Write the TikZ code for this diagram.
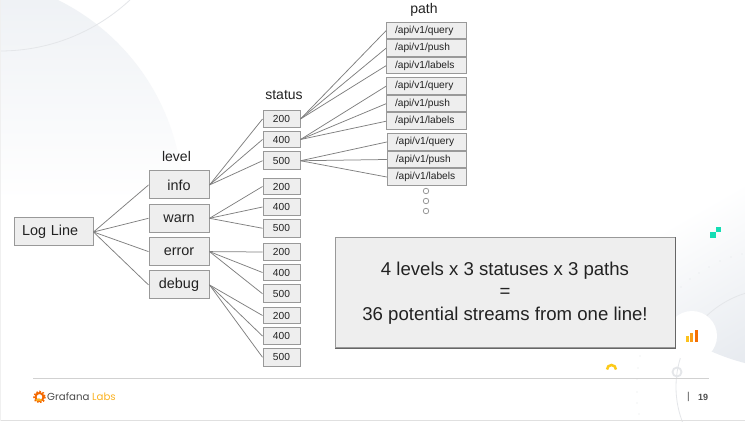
\documentclass[tikz,border=0pt]{standalone}
\usepackage{fontspec}
\setmainfont{Liberation Sans}
\newfontfamily\logofont{Poppins}
\usetikzlibrary{positioning}
\definecolor{boxfill}{HTML}{EEEEEE}
\definecolor{boxedge}{HTML}{999999}
\definecolor{wire}{HTML}{808080}
\definecolor{inktext}{HTML}{222222}
\definecolor{wash}{HTML}{EDF0F4}
\definecolor{washdeep}{HTML}{DDE2E9}
\definecolor{faint}{HTML}{E4E6E9}
\definecolor{teal}{HTML}{14DDB4}
\definecolor{grafana}{HTML}{F46800}
\definecolor{amber}{HTML}{FBB324}
\tikzset {
  syntax box/.style = {
    draw = boxedge,
    fill = boxfill,
    line width = 1pt,
    inner sep = 0,
    text = inktext
  },
  % log line and the levels
  rootbox/.style = {
    syntax box,
    inner xsep = 8pt,
    text width = 63pt,
    align = left,
    minimum height = 28pt,
    font = \fontsize{14.4}{16}\selectfont
  },
  levelbox/.style = {
    syntax box,
    minimum width = 60pt,
    minimum height = 28pt,
    font = \fontsize{14.4}{16}\selectfont
  },
  statusbox/.style = {
    syntax box,
    minimum width = 37pt,
    minimum height = 16.5pt,
    font = \fontsize{10.2}{12}\selectfont
  },
  % paths are set flush left
  pathbox/.style = {
    statusbox,
    inner xsep = 8.5pt,
    text width = 62.5pt,
    align = left,
    text height = 7.5pt,
    text depth = 2pt
  },
  heading/.style = {
    inner sep = 0,
    text = inktext,
    font = \fontsize{14}{16}\selectfont
  },
  % dots below the last group
  dotmark/.style = {
    circle,
    draw = boxedge,
    fill = white,
    line width = 0.8pt,
    minimum size = 5.5pt,
    inner sep = 0
  },
  wire/.style = {
    draw = wire,
    line width = 0.75pt
  },
  node distance = 3pt
}
\begin{document}
\begin{tikzpicture}[x=1pt, y=-1pt]
    \clip (0,0) rectangle (745,422);
    \fill [white] (0,0) rectangle (745,422);

    % slide background
    \shade [top color = wash, bottom color = white, middle color = white]
      (-41,201) circle (224);
    \draw [faint, line width = 0.8pt] (0,-140) circle (191);
    \shade [top color = white, bottom color = washdeep, middle color = white, shading angle = 30]
      (800,150) circle (220);
    \draw [faint, line width = 0.8pt] (774,387) circle (98);
    \fill [white] (692,336) circle (25);
    \draw [faint, line width = 1.8pt] (677,372) circle (4.5);
    \fill [faint]
      (681,287) circle (0.7) (690,279) circle (0.7) (699,273) circle (0.7)
      (709,267) circle (0.7) (720,261) circle (0.7) (731,257) circle (0.7)
      (742,254) circle (0.7) (640,356) circle (0.7) (638,368) circle (0.7)
      (637,379) circle (0.7) (637,392) circle (0.7) (637,403) circle (0.7)
      (639,414) circle (0.7);
    \draw [black!18, line width = 0.8pt] (33,378) -- (709,378);
    \draw [black!12, line width = 0.8pt] (0,420.5) -- (745,420.5);
    \draw [black!6, line width = 0.8pt] (0.5,0) -- (0.5,420.5);
    \draw [amber!70!yellow, line width = 2.5pt]
      (607,369.5) arc [start angle = 180, end angle = 360, radius = 4.5];
    \fill [teal] (710,232.3) rectangle +(5.7,5.7);
    \fill [teal] (715.7,226.7) rectangle +(5.7,5.6);
    \fill [amber!80!yellow] (686,336) rectangle (689,342);
    \fill [amber!70!grafana] (690,333) rectangle (693,342);
    \fill [grafana!90!amber] (694.5,330) rectangle (697.5,342);

    \node[rootbox] (log-line) at (53.5,232) {Log Line};

    \node[levelbox] (info) at (179,185) {info};
    \node[levelbox] (warn) [below=4.3pt of info] {warn};
    \node[levelbox] (error) [below=4.3pt of warn] {error};
    \node[levelbox] (debug) [below=4.3pt of error] {debug};

    \node[heading] (level) at (176.5,156) {level};
    \node[heading] (status) at (284,95.5) {status};
    \node[heading] (path) at (424,10) {path};

    \node[statusbox] (info-200) at (281.5,119) {200};
    \node[statusbox] (info-400) [below=of info-200] {400};
    \node[statusbox, minimum height = 18pt] (info-500) [below=of info-400] {500};

    \node[statusbox] (warn-200) at (281.5,186.5) {200};
    \node[statusbox] (warn-400) [below=of warn-200] {400};
    \node[statusbox, minimum height = 18pt] (warn-500) [below=of warn-400] {500};

    \node[statusbox] (error-200) at (281.5,252) {200};
    \node[statusbox] (error-400) [below=of error-200] {400};
    \node[statusbox, minimum height = 18pt] (error-500) [below=of error-400] {500};

    \node[statusbox] (debug-200) at (281.5,315.5) {200};
    \node[statusbox] (debug-400) [below=of debug-200] {400};
    \node[statusbox, minimum height = 18pt] (debug-500) [below=of debug-400] {500};

    \node[pathbox] (q-200) at (426.25,30.75) {/api/v1/query};
    \node[pathbox] (p-200) [below=0pt of q-200] {/api/v1/push};
    \node[pathbox] (l-200) [below=0pt of p-200] {/api/v1/labels};

    \node[pathbox] (q-400) at (426.25,86.25) {/api/v1/query};
    \node[pathbox] (p-400) [below=0pt of q-400] {/api/v1/push};
    \node[pathbox] (l-400) [below=0pt of p-400] {/api/v1/labels};

    \node[pathbox] (q-500) at (427,142) {/api/v1/query};
    \node[pathbox] (p-500) [below=0pt of q-500] {/api/v1/push};
    \node[pathbox] (l-500) [below=0pt of p-500] {/api/v1/labels};

    \node[dotmark] (dot-a) at (426,191) {};
    \node[dotmark] (dot-b) at (426,201) {};
    \node[dotmark] (dot-c) at (426,211) {};

    \draw [wire] (log-line.east) -- (info.west);
    \draw [wire] (log-line.east) -- (warn.west);
    \draw [wire] (log-line.east) -- (error.west);
    \draw [wire] (log-line.east) -- (debug.west);

    \draw [wire] (info.east) -- (info-200.west);
    \draw [wire] (info.east) -- (info-400.west);
    \draw [wire] (info.east) -- (info-500.west);
    \draw [wire] (warn.east) -- (warn-200.west);
    \draw [wire] (warn.east) -- (warn-400.west);
    \draw [wire] (warn.east) -- (warn-500.west);
    \draw [wire] (error.east) -- (error-200.west);
    \draw [wire] (error.east) -- (error-400.west);
    \draw [wire] (error.east) -- (error-500.west);
    \draw [wire] (debug.east) -- (debug-200.west);
    \draw [wire] (debug.east) -- (debug-400.west);
    \draw [wire] (debug.east) -- (debug-500.west);

    \draw [wire] (info-200.east) -- (q-200.west);
    \draw [wire] (info-200.east) -- (p-200.west);
    \draw [wire] (info-200.east) -- (l-200.west);
    \draw [wire] (info-400.east) -- (q-400.west);
    \draw [wire] (info-400.east) -- (p-400.west);
    \draw [wire] (info-400.east) -- (l-400.west);
    \draw [wire] (info-500.east) -- (q-500.west);
    \draw [wire] (info-500.east) -- (p-500.west);
    \draw [wire] (info-500.east) -- (l-500.west);

    \node[draw = boxedge, fill = boxfill, line width = 1pt, inner sep = 0,
      minimum width = 340pt, minimum height = 110pt, align = center,
      text = inktext, font = \fontsize{18.6}{22.8}\selectfont] (summary) at (505,293)
      {4 levels x 3 statuses x 3 paths\\=\\36 potential streams from one line!};
    \draw [black!60, line width = 1.2pt]
      (summary.north east) -- (summary.south east) -- (summary.south west);

    % footer
    \node[circle, draw = grafana, line width = 2pt, minimum size = 8pt, inner sep = 0] (logo) at (39.5,397) {};
    \draw [amber, line width = 2pt] (logo.south west) arc [start angle = 225, end angle = 315, radius = 4];
    \draw [grafana, line width = 1.5pt, dash pattern = on 1.6pt off 1.6pt] (logo) circle (5.6);
    \node[inner sep = 0, right=1.5pt of logo, xshift = 1pt, font = \logofont\fontsize{10.2}{12}\selectfont, text = black!70] (brand) {Grafana \textcolor{amber}{Labs}};
    \node[inner sep = 0, font = \fontsize{10}{12}\selectfont, text = black!70] (bar) at (688.5,397) {|};
    \node[inner sep = 0, font = \bfseries\fontsize{9}{11}\selectfont, text = black!70] (page) at (703,397) {19};
\end{tikzpicture}
\end{document}
